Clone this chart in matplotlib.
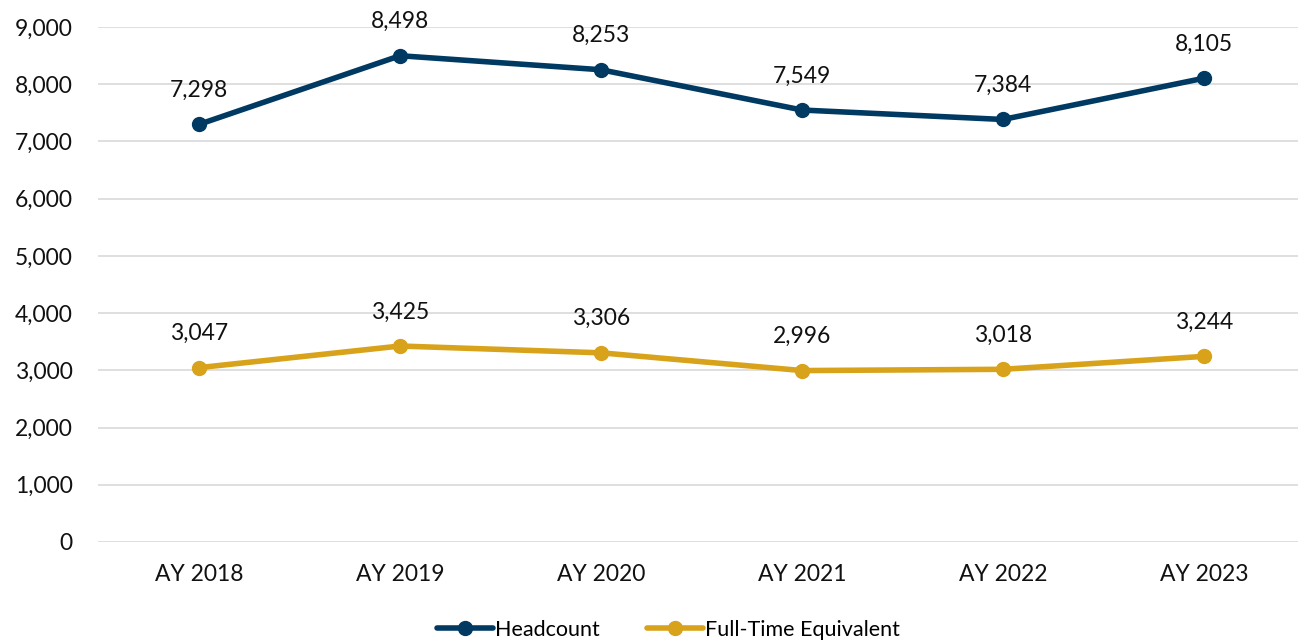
import matplotlib
matplotlib.use("Agg")
import matplotlib.pyplot as plt
from matplotlib.ticker import FuncFormatter, MultipleLocator

years = ["AY 2018", "AY 2019", "AY 2020", "AY 2021", "AY 2022", "AY 2023"]
headcount = [7298, 8498, 8253, 7549, 7384, 8105]
fte = [3047, 3425, 3306, 2996, 3018, 3244]

navy = "#003A63"
gold = "#D8A31A"

plt.rcParams["font.family"] = ["Lato", "DejaVu Sans"]

W, H = 1298, 641
fig = plt.figure(figsize=(W / 100, H / 100), dpi=100)
ax = fig.add_axes([98 / W, 1 - 542 / H, 1 - 98 / W, (542 - 27) / H])

x = list(range(len(years)))
ax.plot(x, headcount, color=navy, lw=4, marker="o", ms=10, label="Headcount",
        solid_capstyle="round", zorder=3)
ax.plot(x, fte, color=gold, lw=4, marker="o", ms=10, label="Full-Time Equivalent",
        solid_capstyle="round", zorder=3)

for series in (headcount, fte):
    for xi, v in zip(x, series):
        ax.annotate(f"{v:,}", (xi, v), xytext=(0, 17), textcoords="offset points",
                    ha="center", va="bottom", fontsize=16.5, color="#111111")

ax.set_ylim(0, 9000)
ax.set_xlim(-0.5025, (W - 199) / 201)
ax.yaxis.set_major_locator(MultipleLocator(1000))
ax.yaxis.set_major_formatter(FuncFormatter(lambda v, p: f"{int(v):,}"))
ax.set_xticks(x)
ax.set_xticklabels(years)
ax.tick_params(axis="both", length=0, labelsize=16.5, colors="#111111")
ax.tick_params(axis="y", pad=18)
ax.tick_params(axis="x", pad=16)
ax.grid(axis="y", color="#D9D9D9", lw=1.2)
ax.set_axisbelow(True)
for s in ax.spines.values():
    s.set_visible(False)

fig.legend(loc="center", bbox_to_anchor=(0.515, 1 - 630 / H), ncol=2, frameon=False,
           fontsize=15.5, handlelength=2.6, handletextpad=0.1, columnspacing=2.2,
           borderaxespad=0)

fig.savefig("out.png", dpi=100)
